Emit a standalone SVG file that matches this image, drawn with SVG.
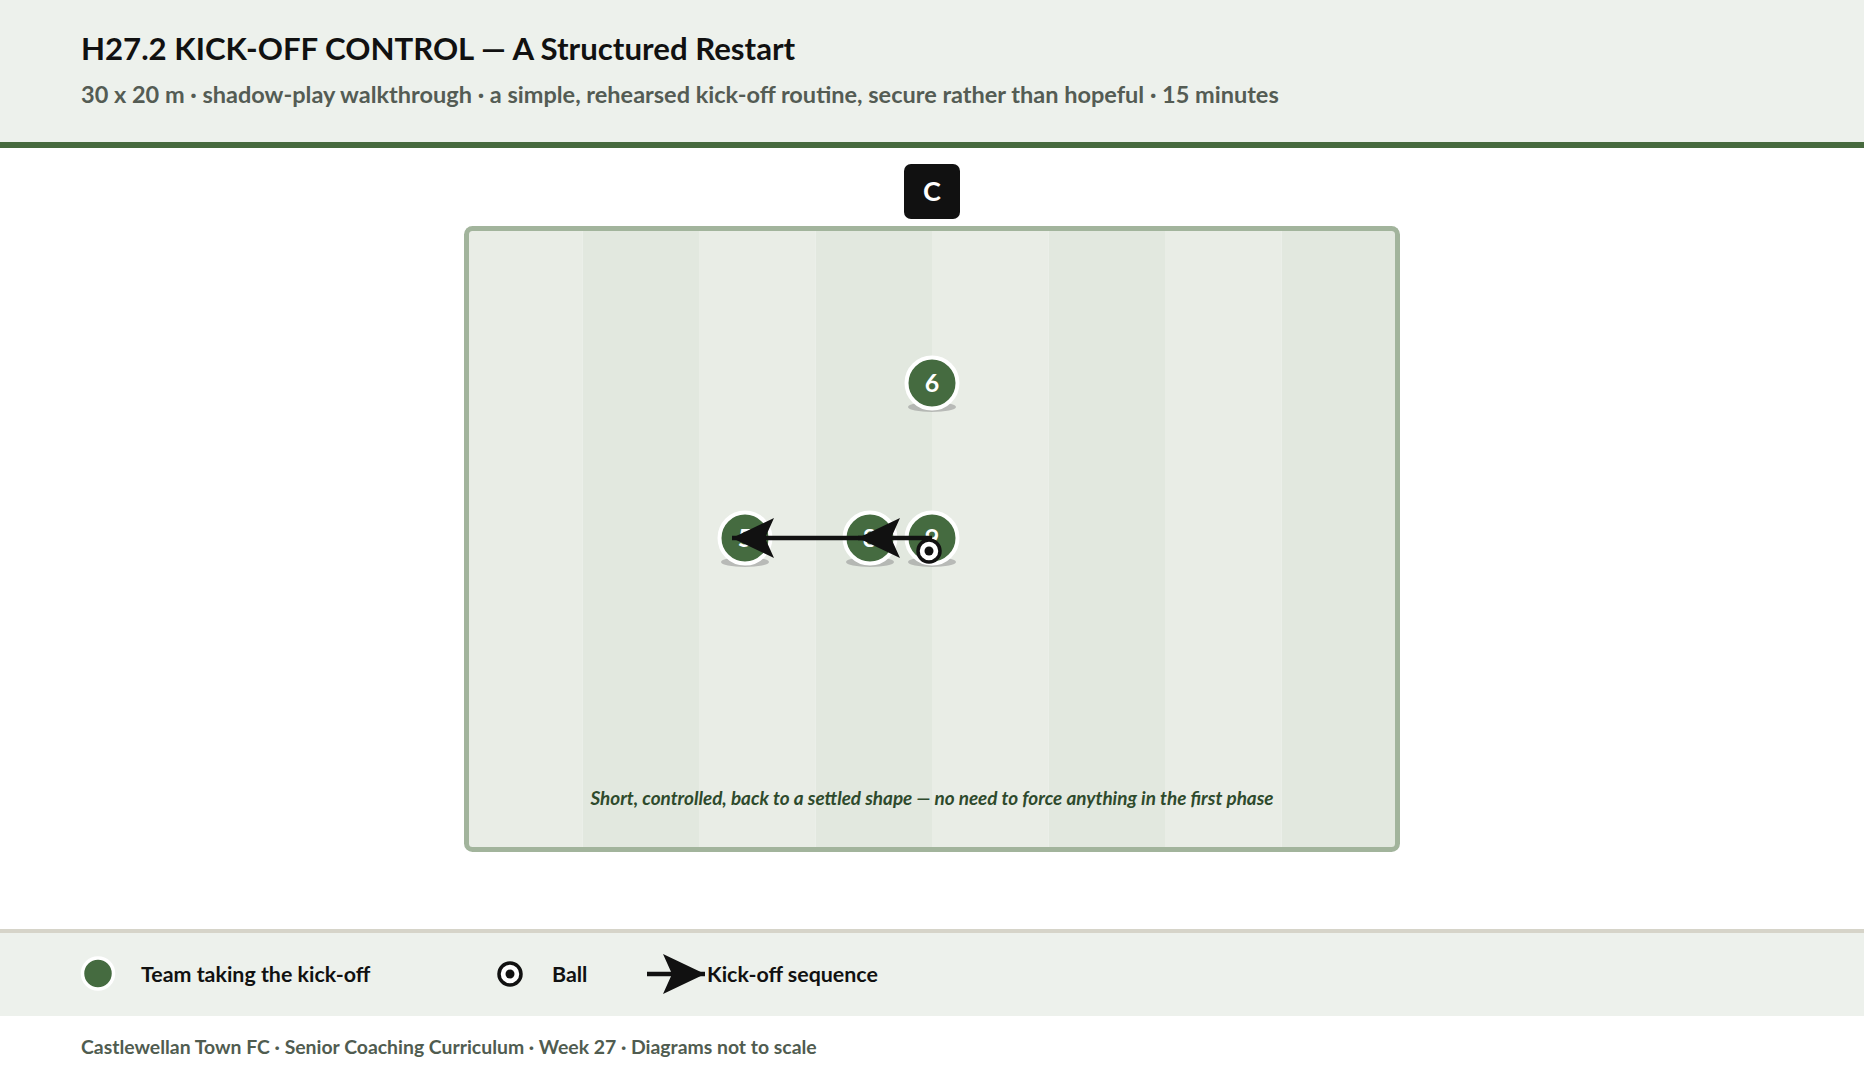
<svg xmlns="http://www.w3.org/2000/svg" width="1864" height="1074" viewBox="0 0 1864 1074">
<defs>
<style>
text{font-family:Lato,"Liberation Sans","DejaVu Sans",sans-serif;font-weight:bold}
.title{font-size:31.2px;fill:#111}
.sub{font-size:23.5px;fill:#545c54}
.leg{font-size:21.4px;fill:#111}
.foot{font-size:19.4px;fill:#505c50}
.cap{font-size:18.9px;font-style:italic;fill:#2e4a2c}
.pl{fill:#456b40;stroke:#fff;stroke-width:4}
.shadow{fill:#8f8f8f;opacity:0.55}
.num{font-size:25px;fill:#fff;text-anchor:middle}
.lt{fill:#e9ede6}
.dk{fill:#e2e8df}
.seq{stroke:#111;stroke-width:4.5;fill:none}
</style>
<marker id="ah" markerUnits="userSpaceOnUse" markerWidth="43" markerHeight="40" viewBox="0 0 43 40" refX="42" refY="20" orient="auto">
<path d="M0,0 L42,20 L0,40 L9,20 Z" fill="#111"/>
</marker>
</defs>
<rect x="0" y="0" width="1864" height="1074" fill="#fff"/>
<g id="header">
<rect x="0" y="0" width="1864" height="142" fill="#edf1ec"/>
<rect x="0" y="142" width="1864" height="6" fill="#476a3e"/>
<text class="title" x="81" y="60">H27.2 KICK-OFF CONTROL — A Structured Restart</text>
<text class="sub" x="81" y="103">30 x 20 m · shadow-play walkthrough · a simple, rehearsed kick-off routine, secure rather than hopeful · 15 minutes</text>
</g>
<g id="coach">
<rect x="904" y="164" width="56" height="55" rx="7" fill="#111"/>
<text x="932" y="201" font-size="27" fill="#fff" text-anchor="middle">C</text>
</g>
<g id="pitch">
<rect class="lt" x="466" y="228" width="116.5" height="621"/>
<rect class="dk" x="582.5" y="228" width="116.5" height="621"/>
<rect class="lt" x="699" y="228" width="116.5" height="621"/>
<rect class="dk" x="815.5" y="228" width="116.5" height="621"/>
<rect class="lt" x="932" y="228" width="116.5" height="621"/>
<rect class="dk" x="1048.5" y="228" width="116.5" height="621"/>
<rect class="lt" x="1165" y="228" width="116.5" height="621"/>
<rect class="dk" x="1281.5" y="228" width="116.5" height="621"/>
<rect x="466.5" y="228.5" width="931" height="621" rx="6" fill="none" stroke="#a2b49c" stroke-width="5"/>
<text class="cap" x="932" y="805" text-anchor="middle">Short, controlled, back to a settled shape — no need to force anything in the first phase</text>
</g>
<g id="player-6">
<ellipse class="shadow" cx="932" cy="407" rx="24" ry="5"/>
<circle class="pl" cx="932" cy="383" r="25.5"/>
<text class="num" x="932" y="392">6</text>
</g>
<g id="player-5">
<ellipse class="shadow" cx="745" cy="562" rx="24" ry="5"/>
<circle class="pl" cx="745" cy="538" r="25.5"/>
<text class="num" x="745" y="547">5</text>
</g>
<g id="player-8">
<ellipse class="shadow" cx="870" cy="562" rx="24" ry="5"/>
<circle class="pl" cx="870" cy="538" r="25.5"/>
<text class="num" x="870" y="547">8</text>
</g>
<g id="player-9">
<ellipse class="shadow" cx="932" cy="562" rx="24" ry="5"/>
<circle class="pl" cx="932" cy="538" r="25.5"/>
<text class="num" x="932" y="547">9</text>
</g>
<g id="connectors">
<line class="seq" x1="932" y1="538" x2="858" y2="538" marker-end="url(#ah)"/>
<line class="seq" x1="870" y1="538" x2="732" y2="538" marker-end="url(#ah)"/>
</g>
<g id="ball">
<circle cx="929" cy="551" r="11" fill="#fff" stroke="#111" stroke-width="3.5"/>
<circle cx="929" cy="551" r="4.5" fill="#111"/>
</g>
<g id="legend">
<rect x="0" y="929" width="1864" height="4" fill="#d6d4c9"/>
<rect x="0" y="933" width="1864" height="83" fill="#edf1ec"/>
<circle cx="98" cy="973.5" r="15.5" fill="#456b40" stroke="#fff" stroke-width="3.5"/>
<text class="leg" x="141" y="982">Team taking the kick-off</text>
<circle cx="510" cy="974" r="11" fill="#fff" stroke="#111" stroke-width="3.5"/>
<circle cx="510" cy="974" r="4.5" fill="#111"/>
<text class="leg" x="552" y="982">Ball</text>
<line class="seq" x1="647" y1="974" x2="705" y2="974" marker-end="url(#ah)"/>
<text class="leg" x="707" y="982">Kick-off sequence</text>
</g>
<g id="footer">
<text class="foot" x="81" y="1054">Castlewellan Town FC · Senior Coaching Curriculum · Week 27 · Diagrams not to scale</text>
</g>
</svg>
